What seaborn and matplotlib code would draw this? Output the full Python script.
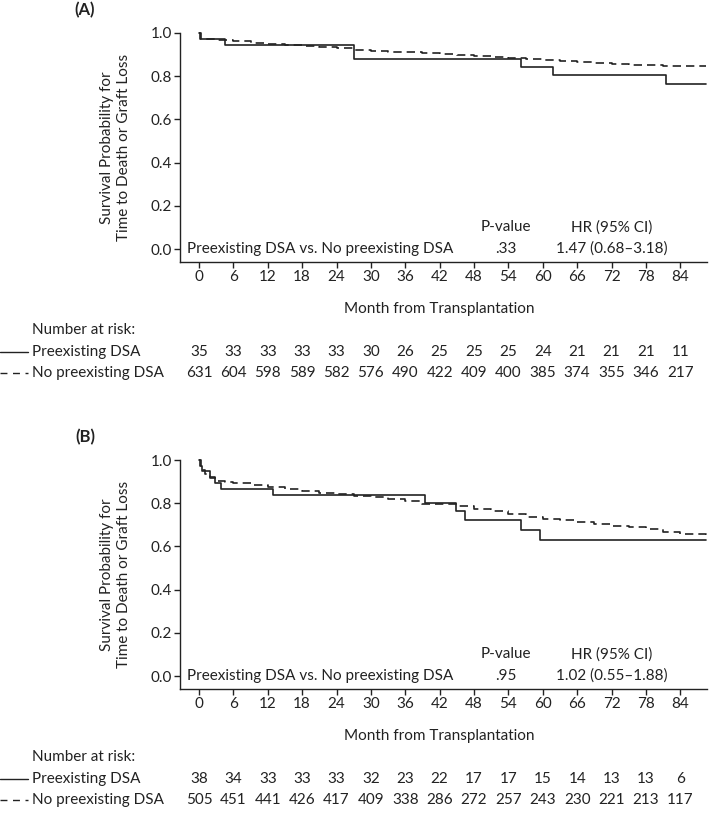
import matplotlib
matplotlib.use("Agg")
import matplotlib.pyplot as plt
import matplotlib.transforms as mtransforms
from matplotlib.lines import Line2D
import seaborn as sns
import pandas as pd

# ---- data ----
months = [0, 6, 12, 18, 24, 30, 36, 42, 48, 54, 60, 66, 72, 78, 84]

# Panel A
a_pre_t = [0, 0.2, 4.6, 27.0, 56.2, 61.8, 81.5, 88.5]
a_pre_s = [1.0, 0.970, 0.943, 0.880, 0.843, 0.806, 0.766, 0.766]
a_no_t = [0, 0.4, 3, 6, 9, 12, 15, 18, 21, 24, 27, 30, 33, 36, 39, 42, 45,
          48, 51, 54, 57, 60, 63, 66, 69, 72, 75, 78, 81, 84, 88.5]
a_no_s = [1.0, 0.972, 0.967, 0.961, 0.954, 0.949, 0.944, 0.940, 0.935, 0.929,
          0.922, 0.918, 0.914, 0.911, 0.907, 0.903, 0.899, 0.895, 0.890, 0.886,
          0.881, 0.875, 0.871, 0.866, 0.860, 0.856, 0.853, 0.851, 0.849, 0.847, 0.846]
a_risk_pre = [35, 33, 33, 33, 33, 30, 26, 25, 25, 25, 24, 21, 21, 21, 11]
a_risk_no = [631, 604, 598, 589, 582, 576, 490, 422, 409, 400, 385, 374, 355, 346, 217]
a_pval = ".33"
a_hr = "1.47 (0.68\u20133.18)"

# Panel B
b_pre_t = [0, 0.2, 0.5, 2.0, 2.8, 3.8, 12.9, 39.5, 44.8, 46.5, 56.2, 59.5, 88.5]
b_pre_s = [1.0, 0.974, 0.947, 0.921, 0.895, 0.868, 0.840, 0.803, 0.765, 0.722,
           0.677, 0.632, 0.632]
b_no_t = [0, 0.3, 1, 2, 3, 4.5, 6, 9, 12, 15, 18, 21, 24, 27, 30, 33, 36, 39,
          42, 45, 48, 51, 54, 57, 60, 63, 66, 69, 72, 75, 78, 81, 84, 88.5]
b_no_s = [1.0, 0.955, 0.935, 0.915, 0.905, 0.898, 0.893, 0.884, 0.876, 0.866,
          0.856, 0.848, 0.843, 0.833, 0.828, 0.820, 0.812, 0.797, 0.795, 0.787,
          0.775, 0.763, 0.750, 0.738, 0.728, 0.720, 0.712, 0.703, 0.695, 0.688,
          0.680, 0.665, 0.657, 0.654]
b_risk_pre = [38, 34, 33, 33, 33, 32, 23, 22, 17, 17, 15, 14, 13, 13, 6]
b_risk_no = [505, 451, 441, 426, 417, 409, 338, 286, 272, 257, 243, 230, 221, 213, 117]
b_pval = ".95"
b_hr = "1.02 (0.55\u20131.88)"

W, H = 709, 814
sns.set_theme(style="ticks")
plt.rcParams['font.family'] = ['Lato', 'DejaVu Sans']
FS = 11
INK = "#222222"

fig = plt.figure(figsize=(W / 100, H / 100), dpi=100)


def fy(py):
    return 1 - py / H


def panel(top_px, label, pre_t, pre_s, no_t, no_s, risk_pre, risk_no, pval, hr):
    bottom_px = top_px + 229
    ax = fig.add_axes([180 / W, fy(bottom_px), (707 - 180) / W, 229 / H])
    df = pd.concat([
        pd.DataFrame({"t": pre_t, "s": pre_s, "g": "Preexisting DSA"}),
        pd.DataFrame({"t": no_t, "s": no_s, "g": "No preexisting DSA"}),
    ])
    sns.lineplot(data=df[df.g == "Preexisting DSA"], x="t", y="s", ax=ax,
                 color=INK, lw=1.2, drawstyle="steps-post", estimator=None)
    sns.lineplot(data=df[df.g == "No preexisting DSA"], x="t", y="s", ax=ax,
                 color=INK, lw=1.2, drawstyle="steps-post", estimator=None,
                 dashes=False, linestyle=(0, (5, 3)))
    for ln in ax.lines:
        ln.set_clip_on(False)

    xmin, xmax = -3.32, 88.66
    ax.set_xlim(xmin, xmax)
    ax.set_ylim(-0.06, 1.0)
    ax.set_xticks(months)
    ax.set_yticks([0, 0.2, 0.4, 0.6, 0.8, 1.0])
    ax.set_yticklabels(["0.0", "0.2", "0.4", "0.6", "0.8", "1.0"])
    ax.tick_params(labelsize=FS, length=4, width=1, color=INK, labelcolor=INK, pad=2)
    sns.despine(ax=ax)
    for sp in ("left", "bottom"):
        ax.spines[sp].set_color(INK)
        ax.spines[sp].set_linewidth(1.0)

    ax.set_ylabel("Survival Probability for\nTime to Death or Graft Loss",
                  fontsize=FS, color=INK, labelpad=14, linespacing=1.3)
    ax.set_xlabel("Month from Transplantation", fontsize=FS, color=INK)
    ax.xaxis.set_label_coords((42 - xmin) / (xmax - xmin), -0.175)

    # comparison table inside the axes
    ax.text(-2.1, 0.0, "Preexisting DSA vs. No preexisting DSA", fontsize=FS,
            color=INK, ha="left", va="center")
    ax.text(53.5, 0.0, pval, fontsize=FS, color=INK, ha="center", va="center")
    ax.text(72.0, 0.0, hr, fontsize=FS, color=INK, ha="center", va="center")
    ax.text(53.5, 0.10, "P-value", fontsize=FS, color=INK, ha="center", va="center")
    ax.text(72.0, 0.10, "HR (95% CI)", fontsize=FS, color=INK, ha="center", va="center")

    fig.text(85 / W, fy(top_px - 23), label, fontsize=12, fontweight="bold",
             color=INK, ha="center", va="center")

    # number at risk table
    base = bottom_px + 68
    tr = mtransforms.blended_transform_factory(ax.transData, fig.transFigure)
    fig.text(32 / W, fy(base), "Number at risk:", fontsize=FS, color=INK,
             ha="left", va="center")
    rows = [("Preexisting DSA", risk_pre, "-"), ("No preexisting DSA", risk_no, (0, (5, 4)))]
    for i, (name, vals, ls) in enumerate(rows):
        yy = fy(base + 22 + 21 * i)
        fig.add_artist(Line2D([0, 28 / W], [yy, yy], transform=fig.transFigure,
                              color=INK, lw=1.0, linestyle=ls))
        fig.text(32 / W, yy, name, fontsize=FS, color=INK, ha="left", va="center")
        for m, v in zip(months, vals):
            ax.text(m, yy, str(v), transform=tr, fontsize=FS, color=INK,
                    ha="center", va="center")
    return ax


panel(33, "(A)", a_pre_t, a_pre_s, a_no_t, a_no_s, a_risk_pre, a_risk_no, a_pval, a_hr)
panel(460, "(B)", b_pre_t, b_pre_s, b_no_t, b_no_s, b_risk_pre, b_risk_no, b_pval, b_hr)

fig.savefig("out.png", dpi=100, facecolor="white")
